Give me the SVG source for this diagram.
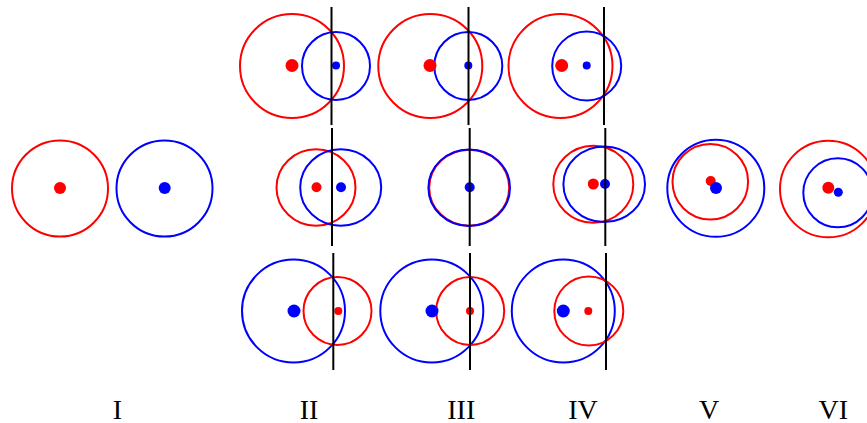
<svg xmlns="http://www.w3.org/2000/svg" width="867" height="423" viewBox="0 0 867 423">
<style>
.r{fill:none;stroke:#ff0000;stroke-width:2}
.b{fill:none;stroke:#0000ff;stroke-width:2}
.rd{fill:#ff0000}
.bd{fill:#0000ff}
.ln{stroke:#000;stroke-width:2}
.lb{font-family:"Liberation Serif","Times New Roman",serif;font-size:28px;fill:#000;text-anchor:middle}
</style>
<rect width="867" height="423" fill="#fff"/>
<g id="panel-I">
<circle class="r" cx="60" cy="188.5" r="48"/>
<circle class="rd" cx="60" cy="188" r="6"/>
<circle class="b" cx="164.5" cy="188.5" r="48"/>
<circle class="bd" cx="164.7" cy="188" r="6"/>
</g>
<g id="panel-II-top">
<circle class="r" cx="292" cy="66" r="52"/>
<circle class="b" cx="336" cy="66" r="34"/>
<circle class="rd" cx="292" cy="65.5" r="6.5"/>
<circle class="bd" cx="336" cy="65.5" r="4"/>
<line class="ln" x1="331.5" y1="7" x2="331.5" y2="125"/>
</g>
<g id="panel-III-top">
<circle class="r" cx="430.3" cy="66" r="52"/>
<circle class="b" cx="468.3" cy="66" r="34"/>
<circle class="rd" cx="430" cy="65.5" r="6.5"/>
<circle class="bd" cx="468.3" cy="65.5" r="4"/>
<line class="ln" x1="468.5" y1="7" x2="468.5" y2="125"/>
</g>
<g id="panel-IV-top">
<circle class="r" cx="560.5" cy="66" r="52"/>
<circle class="b" cx="586.7" cy="66" r="34.5"/>
<circle class="rd" cx="561.7" cy="65.5" r="6.5"/>
<circle class="bd" cx="586.7" cy="65.5" r="4"/>
<line class="ln" x1="604" y1="7" x2="604" y2="125"/>
</g>
<g id="panel-II-mid">
<ellipse class="r" cx="316" cy="187.5" rx="39.5" ry="38.3"/>
<ellipse class="b" cx="340.7" cy="187.5" rx="40.5" ry="38.3"/>
<circle class="rd" cx="316.5" cy="187.3" r="5"/>
<circle class="bd" cx="341" cy="187.3" r="5"/>
<line class="ln" x1="332" y1="128" x2="332" y2="246"/>
</g>
<g id="panel-III-mid">
<ellipse class="r" cx="469.2" cy="187.7" rx="40" ry="38"/>
<ellipse class="b" cx="469.2" cy="187.7" rx="40.8" ry="38.3"/>
<circle class="bd" cx="469.7" cy="187.3" r="5"/>
<line class="ln" x1="469.7" y1="128" x2="469.7" y2="246"/>
</g>
<g id="panel-IV-mid">
<ellipse class="r" cx="593.3" cy="184.2" rx="40" ry="38.5"/>
<ellipse class="b" cx="604.2" cy="184.2" rx="40.8" ry="37.8"/>
<circle class="rd" cx="593.3" cy="184" r="5.5"/>
<circle class="bd" cx="605" cy="184" r="5"/>
<line class="ln" x1="605.3" y1="128" x2="605.3" y2="246"/>
</g>
<g id="panel-V">
<circle class="b" cx="715.8" cy="188.3" r="48.5"/>
<circle class="r" cx="710.3" cy="181.7" r="37.8"/>
<circle class="rd" cx="710.7" cy="181" r="5"/>
<circle class="bd" cx="716" cy="188" r="6"/>
</g>
<g id="panel-VI">
<circle class="r" cx="828.3" cy="189" r="48.3"/>
<circle class="b" cx="837.8" cy="192.8" r="34.5"/>
<circle class="rd" cx="828.3" cy="187.7" r="6"/>
<circle class="bd" cx="838.3" cy="192.3" r="4.5"/>
</g>
<g id="panel-II-bot">
<circle class="b" cx="293.5" cy="311" r="51.5"/>
<circle class="r" cx="337.5" cy="311" r="34"/>
<circle class="bd" cx="294" cy="311" r="6.5"/>
<circle class="rd" cx="338.3" cy="311" r="4"/>
<line class="ln" x1="333.3" y1="253" x2="333.3" y2="370"/>
</g>
<g id="panel-III-bot">
<circle class="b" cx="431.8" cy="311" r="51.5"/>
<circle class="r" cx="470.2" cy="311" r="34"/>
<circle class="bd" cx="432" cy="311" r="6.5"/>
<circle class="rd" cx="470" cy="311" r="4"/>
<line class="ln" x1="470" y1="253" x2="470" y2="370"/>
</g>
<g id="panel-IV-bot">
<circle class="b" cx="563.3" cy="311" r="51.5"/>
<circle class="r" cx="588.8" cy="311" r="34.5"/>
<circle class="bd" cx="563.3" cy="311" r="6.5"/>
<circle class="rd" cx="588.3" cy="311" r="4"/>
<line class="ln" x1="606" y1="253" x2="606" y2="370"/>
</g>
<g id="labels">
<text class="lb" x="117.5" y="418.5">I</text>
<text class="lb" x="309" y="418.5">II</text>
<text class="lb" x="461.3" y="418.5">III</text>
<text class="lb" x="583" y="418.5">IV</text>
<text class="lb" x="709" y="418.5">V</text>
<text class="lb" x="833.3" y="418.5">VI</text>
</g>
</svg>
